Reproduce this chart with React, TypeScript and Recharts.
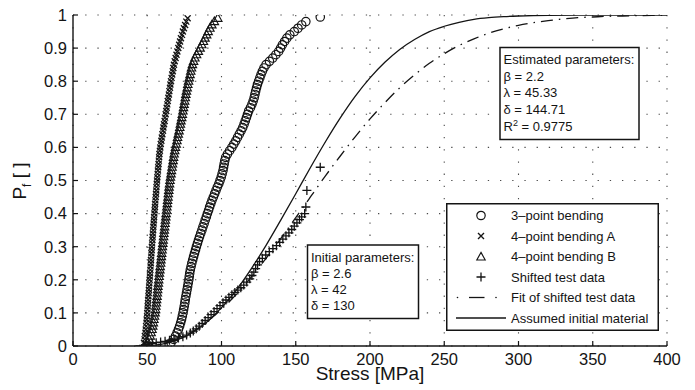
import React from 'react';
import { ComposedChart, Scatter, Line, XAxis, YAxis, CartesianGrid, Legend } from 'recharts';

const xTicks = [0, 50, 100, 150, 200, 250, 300, 350, 400];
const yTicks = [0, 0.1, 0.2, 0.3, 0.4, 0.5, 0.6, 0.7, 0.8, 0.9, 1];

// probability ranks shared by the two 4-point bending series
const rankPf = [
  0.01, 0.02, 0.03, 0.04, 0.05, 0.06, 0.07, 0.08, 0.09, 0.1,
  0.11, 0.12, 0.13, 0.14, 0.15, 0.16, 0.17, 0.18, 0.19, 0.2,
  0.21, 0.22, 0.23, 0.24, 0.25, 0.26, 0.27, 0.28, 0.29, 0.3,
  0.31, 0.32, 0.33, 0.34, 0.35, 0.36, 0.37, 0.38, 0.39, 0.4,
  0.41, 0.42, 0.43, 0.44, 0.45, 0.46, 0.47, 0.48, 0.49, 0.5,
  0.51, 0.52, 0.53, 0.54, 0.55, 0.56, 0.57, 0.58, 0.59, 0.6,
  0.61, 0.62, 0.63, 0.64, 0.65, 0.66, 0.67, 0.68, 0.69, 0.7,
  0.71, 0.72, 0.73, 0.74, 0.75, 0.76, 0.77, 0.78, 0.79, 0.8,
  0.81, 0.82, 0.83, 0.84, 0.85, 0.86, 0.87, 0.88, 0.89, 0.9,
  0.91, 0.92, 0.93, 0.94, 0.95, 0.96, 0.97, 0.98, 0.99,
];

const fourPointAStress = [
  47.8, 48.2, 48.4, 48.8, 49.0, 49.2, 49.5, 49.6, 49.9, 50.0,
  50.2, 50.3, 50.5, 50.6, 50.8, 51.0, 51.1, 51.3, 51.4, 51.6,
  51.8, 51.9, 52.1, 52.2, 52.4, 52.5, 52.7, 52.8, 53.0, 53.1,
  53.3, 53.5, 53.6, 53.8, 54.0, 54.1, 54.3, 54.5, 54.6, 54.8,
  55.0, 55.2, 55.3, 55.5, 55.7, 55.9, 56.1, 56.2, 56.4, 56.6,
  56.8, 57.0, 57.2, 57.4, 57.6, 57.8, 58.0, 58.2, 58.5, 58.8,
  59.1, 59.5, 59.8, 60.2, 60.6, 60.9, 61.3, 61.7, 62.0, 62.4,
  62.8, 63.1, 63.5, 63.8, 64.2, 64.6, 64.9, 65.3, 65.6, 66.0,
  66.4, 66.8, 67.2, 67.6, 68.0, 68.5, 69.1, 69.7, 70.3, 70.9,
  71.5, 72.1, 72.7, 73.4, 74.0, 74.7, 75.5, 76.3, 77.2,
];

const fourPointBStress = [
  50.5, 51.3, 52.0, 52.6, 53.2, 53.7, 54.1, 54.5, 54.9, 55.3,
  55.6, 55.8, 56.1, 56.3, 56.6, 56.8, 57.0, 57.2, 57.5, 57.7,
  58.0, 58.2, 58.5, 58.7, 59.0, 59.2, 59.5, 59.7, 60.0, 60.2,
  60.5, 60.7, 61.0, 61.2, 61.5, 61.7, 62.0, 62.2, 62.5, 62.7,
  63.0, 63.2, 63.5, 63.7, 64.0, 64.2, 64.5, 64.7, 65.0, 65.3,
  65.6, 66.0, 66.3, 66.7, 67.0, 67.4, 67.7, 68.1, 68.5, 69.0,
  69.5, 70.0, 70.4, 70.9, 71.4, 71.9, 72.3, 72.7, 73.2, 73.6,
  74.0, 74.4, 74.8, 75.2, 75.6, 76.0, 76.4, 76.9, 77.3, 77.8,
  78.3, 78.8, 79.3, 79.8, 80.4, 81.2, 82.1, 83.2, 84.4, 85.6,
  86.7, 87.8, 88.9, 90.0, 91.0, 92.2, 93.5, 95.2, 97.5,
];

const threePointPf = [
  0.01, 0.02, 0.03, 0.04, 0.05, 0.06, 0.07, 0.08, 0.09, 0.1,
  0.11, 0.12, 0.13, 0.14, 0.15, 0.16, 0.17, 0.18, 0.19, 0.2,
  0.21, 0.22, 0.23, 0.24, 0.25, 0.26, 0.27, 0.28, 0.29, 0.3,
  0.31, 0.32, 0.33, 0.34, 0.35, 0.36, 0.37, 0.38, 0.39, 0.4,
  0.41, 0.42, 0.43, 0.44, 0.45, 0.46, 0.47, 0.48, 0.49, 0.5,
  0.51, 0.52, 0.53, 0.54, 0.55, 0.56, 0.57, 0.58, 0.59, 0.6,
  0.61, 0.62, 0.63, 0.64, 0.65, 0.66, 0.67, 0.68, 0.69, 0.7,
  0.71, 0.72, 0.73, 0.74, 0.75, 0.76, 0.77, 0.78, 0.79, 0.8,
  0.81, 0.82, 0.83, 0.84, 0.85, 0.86, 0.87, 0.88, 0.89, 0.9,
  0.91, 0.92, 0.93, 0.94, 0.95, 0.96, 0.97, 0.98, 0.994,
];

const threePointStress = [
  66.0, 67.8, 69.0, 70.1, 71.0, 71.8, 72.5, 73.1, 73.6, 74.1,
  74.5, 74.9, 75.3, 75.6, 76.0, 76.4, 76.8, 77.2, 77.6, 78.0,
  78.3, 78.6, 79.0, 79.5, 80.0, 80.6, 81.2, 81.8, 82.5, 83.1,
  83.8, 84.5, 85.2, 86.0, 86.8, 87.5, 88.3, 89.0, 89.8, 90.5,
  91.3, 92.0, 92.8, 93.6, 94.5, 95.4, 96.3, 97.2, 98.2, 99.0,
  99.8, 100.4, 101.0, 101.4, 101.8, 102.2, 102.8, 104.0, 105.5, 107.0,
  108.3, 109.6, 110.8, 112.0, 113.2, 114.3, 115.2, 116.0, 116.8, 117.5,
  118.3, 119.5, 120.5, 121.3, 122.0, 122.5, 123.0, 123.6, 124.2, 125.0,
  125.8, 126.6, 127.5, 128.6, 130.0, 132.3, 134.5, 136.6, 138.5, 139.8,
  141.0, 142.5, 144.0, 146.0, 149.0, 151.5, 154.0, 156.8, 166.5,
];

const shiftedStress = [
  47.5, 49, 51, 53.5, 56, 59, 62, 65, 68, 71,
  74, 76.5, 79, 81, 83, 85, 87, 89, 91, 93,
  95, 97, 99, 101, 103, 105, 107, 109, 111, 113,
  115, 117, 119, 120.5, 121.8, 123, 124.3, 125.6, 127.5, 129.8,
  132.2, 134.6, 137, 139.2, 141.3, 143.4, 145.4, 147.3, 149, 150.8,
  152.5, 154, 156, 156.8, 157.5, 166.5,
];
const shiftedPf = [
  0.002, 0.004, 0.006, 0.008, 0.01, 0.012, 0.014, 0.017, 0.02, 0.024,
  0.028, 0.033, 0.039, 0.045, 0.052, 0.06, 0.068, 0.077, 0.086, 0.095,
  0.104, 0.113, 0.122, 0.131, 0.139, 0.147, 0.155, 0.162, 0.169, 0.176,
  0.184, 0.193, 0.203, 0.213, 0.223, 0.234, 0.245, 0.255, 0.265, 0.275,
  0.285, 0.294, 0.303, 0.313, 0.323, 0.333, 0.342, 0.352, 0.362, 0.372,
  0.382, 0.39, 0.4, 0.42, 0.47, 0.54,
];

const fitStress = [
  45, 50, 60, 70, 80, 90, 100, 110, 120, 130, 140, 150, 160, 170, 180, 190, 200,
  210, 220, 230, 240, 250, 260, 270, 280, 290, 300, 310, 320, 330, 340, 350, 360,
  370, 380, 390, 400,
];
const fitPf = [
  0, 0.0005, 0.0065, 0.02, 0.042, 0.073, 0.111, 0.156, 0.208, 0.265, 0.325, 0.388,
  0.451, 0.514, 0.574, 0.632, 0.686, 0.735, 0.78, 0.819, 0.854, 0.883, 0.908, 0.928,
  0.945, 0.958, 0.969, 0.977, 0.983, 0.988, 0.992, 0.994, 0.996, 0.997, 0.998, 0.999,
  0.999,
];

const initialStress = [
  42, 50, 60, 70, 80, 90, 100, 110, 120, 130, 140, 150, 160, 170, 180, 190, 200,
  210, 220, 230, 240, 250, 260, 270, 280, 290, 300, 320, 340, 360, 400,
];
const initialPf = [
  0, 0.001, 0.006, 0.018, 0.04, 0.072, 0.116, 0.169, 0.233, 0.304, 0.381, 0.46,
  0.54, 0.617, 0.689, 0.754, 0.81, 0.857, 0.896, 0.926, 0.95, 0.966, 0.978, 0.987,
  0.992, 0.995, 0.997, 0.9993, 0.9999, 1, 1,
];

const legendLabels = [
  '3–point bending',
  '4–point bending A',
  '4–point bending B',
  'Shifted test data',
  'Fit of shifted test data',
  'Assumed initial material',
];
const initialParams = ['Initial parameters:', 'β = 2.6', 'λ = 42', 'δ = 130'];
const estimatedParams = ['Estimated parameters:', 'β = 2.2', 'λ = 45.33', 'δ = 144.71'];
const rSquaredValue = '0.9775';
const xLabel = 'Stress [MPa]';

const INK = '#141414';
const FONT = '"Liberation Sans", Arial, Helvetica, sans-serif';

const zip = (xs: number[], ys: number[]) => xs.map((x, i) => ({ x, y: ys[i] }));

const threePoint = zip(threePointStress, threePointPf);
const fourA = zip(fourPointAStress, rankPf);
const fourB = zip(fourPointBStress, rankPf);
const shifted = zip(shiftedStress, shiftedPf);
const fitCurve = zip(fitStress, fitPf);
const initialCurve = zip(initialStress, initialPf);

const CircleMark = (p: any) =>
  p.cx == null ? <g /> : <circle cx={p.cx} cy={p.cy} r={4.2} fill="none" stroke={INK} strokeWidth={1.2} />;
const XMark = (p: any) =>
  p.cx == null ? <g /> : (
    <path
      d={`M${p.cx - 3},${p.cy - 3}L${p.cx + 3},${p.cy + 3}M${p.cx - 3},${p.cy + 3}L${p.cx + 3},${p.cy - 3}`}
      stroke={INK}
      strokeWidth={1.35}
      fill="none"
    />
  );
const TriMark = (p: any) =>
  p.cx == null ? <g /> : (
    <path
      d={`M${p.cx},${p.cy - 4.6}L${p.cx + 4.2},${p.cy + 3}L${p.cx - 4.2},${p.cy + 3}Z`}
      stroke={INK}
      strokeWidth={1.15}
      fill="none"
    />
  );
const PlusMark = (p: any) =>
  p.cx == null ? <g /> : (
    <path
      d={`M${p.cx - 4.5},${p.cy}L${p.cx + 4.5},${p.cy}M${p.cx},${p.cy - 4.5}L${p.cx},${p.cy + 4.5}`}
      stroke={INK}
      strokeWidth={1.3}
      fill="none"
    />
  );

const LegendBox = () => {
  const rows = [12.5, 33, 53.5, 74, 94.5, 115];
  const sx = 35;
  return (
    <svg width={213} height={128} style={{ display: 'block' }}>
      <rect x={0.75} y={0.75} width={211.5} height={126.5} fill="#fff" stroke={INK} strokeWidth={1.5} />
      <CircleMark cx={sx} cy={rows[0]} />
      <XMark cx={sx} cy={rows[1]} />
      <TriMark cx={sx} cy={rows[2] + 0.5} />
      <PlusMark cx={sx} cy={rows[3]} />
      <circle cx={11.5} cy={rows[4]} r={0.8} fill={INK} />
      <line x1={23} x2={38.5} y1={rows[4]} y2={rows[4]} stroke={INK} strokeWidth={1.3} />
      <circle cx={50} cy={rows[4]} r={0.8} fill={INK} />
      <line x1={10} x2={60} y1={rows[5]} y2={rows[5]} stroke={INK} strokeWidth={1.3} />
      {legendLabels.map((t, i) => (
        <text key={t} x={65} y={rows[i] + 4.6} fontSize={13} fontFamily={FONT} fill={INK}>
          {t}
        </text>
      ))}
    </svg>
  );
};

export default function App() {
  return (
    <div style={{ position: 'absolute', left: 0, top: 0, width: 695, height: 390, background: '#fff' }}>
      <ComposedChart width={695} height={390} margin={{ top: 15, right: 28, bottom: 1, left: 0 }}>
        <CartesianGrid stroke="#4a4a4a" strokeWidth={1.1} strokeDasharray="1.3 10.9" />
        <XAxis
          dataKey="x"
          type="number"
          domain={[0, 400]}
          ticks={xTicks}
          interval={0}
          height={43}
          tickSize={-5}
          tickMargin={12}
          allowDataOverflow
          tick={{ fontSize: 16.5, fill: INK, fontFamily: FONT }}
          axisLine={{ stroke: INK, strokeWidth: 1.4 }}
          tickLine={{ stroke: INK, strokeWidth: 1.2 }}
        />
        <XAxis
          xAxisId="top"
          orientation="top"
          type="number"
          domain={[0, 400]}
          ticks={xTicks}
          interval={0}
          height={0}
          tickSize={-5}
          allowDataOverflow
          tick={false}
          axisLine={{ stroke: INK, strokeWidth: 1.4 }}
          tickLine={{ stroke: INK, strokeWidth: 1.2 }}
        />
        <YAxis
          dataKey="y"
          type="number"
          domain={[0, 1]}
          ticks={yTicks}
          interval={0}
          width={73}
          tickSize={-5}
          tickMargin={11}
          allowDataOverflow
          tick={{ fontSize: 16.5, fill: INK, fontFamily: FONT }}
          axisLine={{ stroke: INK, strokeWidth: 1.4 }}
          tickLine={{ stroke: INK, strokeWidth: 1.2 }}
        />
        <YAxis
          yAxisId="right"
          orientation="right"
          type="number"
          domain={[0, 1]}
          ticks={yTicks}
          interval={0}
          width={0}
          tickSize={-5}
          allowDataOverflow
          tick={false}
          axisLine={{ stroke: INK, strokeWidth: 1.4 }}
          tickLine={{ stroke: INK, strokeWidth: 1.2 }}
        />
        <Line
          data={initialCurve}
          dataKey="y"
          type="monotone"
          dot={false}
          stroke={INK}
          strokeWidth={1.3}
          isAnimationActive={false}
        />
        <Line
          data={fitCurve}
          dataKey="y"
          type="monotone"
          dot={false}
          stroke={INK}
          strokeWidth={1.3}
          strokeDasharray="12 6 1.5 6"
          isAnimationActive={false}
        />
        <Scatter data={threePoint} dataKey="y" shape={CircleMark} isAnimationActive={false} />
        <Scatter data={fourA} dataKey="y" shape={XMark} isAnimationActive={false} />
        <Scatter data={fourB} dataKey="y" shape={TriMark} isAnimationActive={false} />
        <Scatter data={shifted} dataKey="y" shape={PlusMark} isAnimationActive={false} />
        <Legend
          layout="vertical"
          align="center"
          verticalAlign="middle"
          wrapperStyle={{ left: 446, top: 203, width: 213, height: 128 }}
          content={() => <LegendBox />}
        />
      </ComposedChart>
      <svg
        width={695}
        height={390}
        style={{ position: 'absolute', left: 0, top: 0, pointerEvents: 'none' }}
      >
        <rect x={307.5} y={245} width={111} height={73.5} fill="#fff" stroke={INK} strokeWidth={1.5} />
        {initialParams.map((t, i) => (
          <text key={t} x={311} y={261.5 + i * 16.2} fontSize={13} fontFamily={FONT} fill={INK}>
            {t}
          </text>
        ))}
        <rect x={500} y={47.5} width={139} height={92} fill="#fff" stroke={INK} strokeWidth={1.5} />
        {estimatedParams.map((t, i) => (
          <text key={t} x={503.5} y={64 + i * 16.5} fontSize={13} fontFamily={FONT} fill={INK}>
            {t}
          </text>
        ))}
        <text x={503.5} y={131} fontSize={13} fontFamily={FONT} fill={INK}>
          R
          <tspan fontSize={9} dy={-5.5}>2</tspan>
          <tspan dy={5.5}>{' = ' + rSquaredValue}</tspan>
        </text>
        <text x={370} y={380} fontSize={19} fontFamily={FONT} fill={INK} textAnchor="middle">
          {xLabel}
        </text>
        <text
          x={26}
          y={181}
          transform="rotate(-90 26 181)"
          fontSize={19}
          fontFamily={FONT}
          fill={INK}
          textAnchor="middle"
        >
          P
          <tspan fontSize={12} dy={5}>f</tspan>
          <tspan dy={-5}>{' [ ]'}</tspan>
        </text>
      </svg>
    </div>
  );
}
